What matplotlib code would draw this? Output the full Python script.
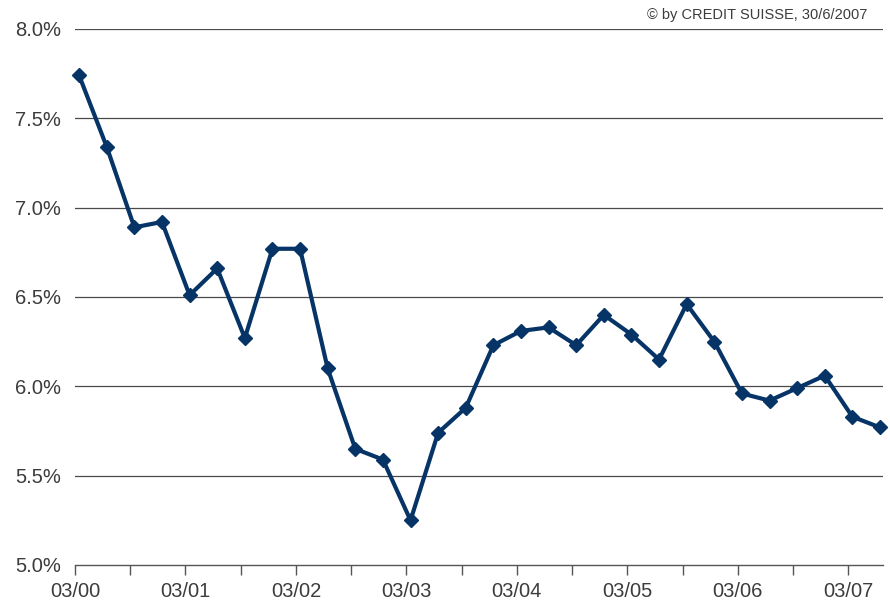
import matplotlib
matplotlib.use("Agg")
import matplotlib.pyplot as plt
import numpy as np

plt.rcParams['font.family'] = ['Liberation Sans', 'DejaVu Sans']

# Quarterly rate (%), March 2000 through June 2007
rates = [7.74, 7.34, 6.89, 6.92, 6.51, 6.66, 6.27, 6.77, 6.77, 6.10,
         5.65, 5.59, 5.25, 5.74, 5.88, 6.23, 6.31, 6.33, 6.23, 6.40,
         6.29, 6.15, 6.46, 6.25, 5.96, 5.92, 5.99, 6.06, 5.83, 5.77]
year_labels = ["03/00", "03/01", "03/02", "03/03", "03/04", "03/05", "03/06", "03/07"]
y_ticks = [5.0, 5.5, 6.0, 6.5, 7.0, 7.5, 8.0]

W, H = 890, 605
fig = plt.figure(figsize=(W / 100, H / 100), dpi=100)
left, right, top, bottom = 75, 883, 29, 565
ax = fig.add_axes([left / W, 1 - bottom / H, (right - left) / W, (bottom - top) / H])

# quarter index; observations sit just after each quarter tick
x = np.arange(len(rates)) + 0.15
line_color = "#063466"
ax.plot(x, rates, color=line_color, lw=3.0, marker="D", markersize=7.5,
        markeredgecolor=line_color, markerfacecolor=line_color, zorder=3,
        clip_on=False)

ax.set_ylim(5.0, 8.0)
ax.set_xlim(0, 29.26)
ax.set_yticks(y_ticks)
ax.set_yticklabels([f"{v:.1f}%" for v in y_ticks])
for v in y_ticks[1:]:
    ax.axhline(v, color="#4a4a4a", lw=0.9, zorder=1)

# half-year ticks, labels every year
ax.set_xticks(np.arange(0, 30, 2))
ax.set_xticklabels([lbl for i in range(8) for lbl in ([year_labels[i], ""])][:15])

for s in ["left", "right", "top"]:
    ax.spines[s].set_visible(False)
ax.spines["bottom"].set_color("#555555")
ax.spines["bottom"].set_linewidth(1.0)

text_color = "#3c3c3c"
ax.tick_params(axis="y", length=0, pad=10, labelsize=14.5, labelcolor=text_color)
ax.tick_params(axis="x", length=7, width=1.0, color="#555555", pad=5,
               labelsize=14.5, labelcolor=text_color)

fig.text(867 / W, 1 - 15 / H, "© by CREDIT SUISSE, 30/6/2007", ha="right",
         va="center", fontsize=10.5, color=text_color)

fig.savefig("out.png", dpi=100, facecolor="white")
